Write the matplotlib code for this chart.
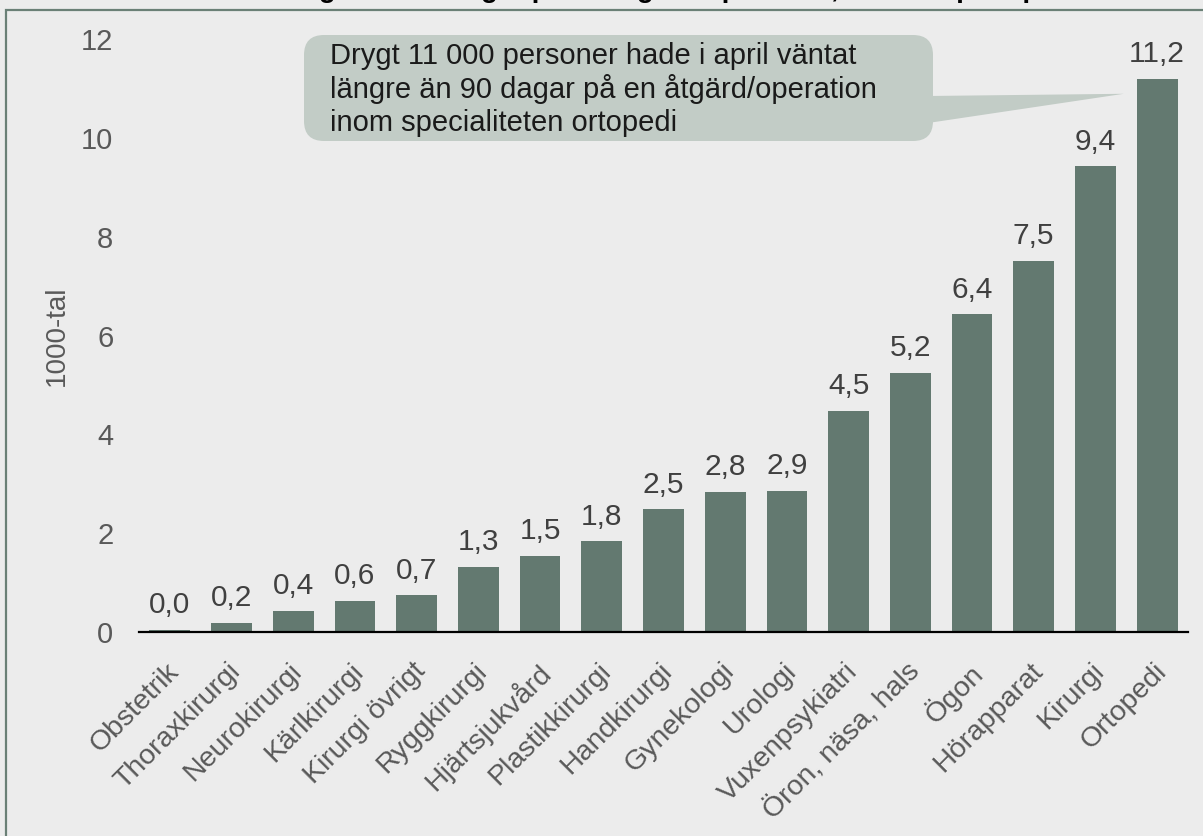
import matplotlib
matplotlib.use("Agg")
import matplotlib.pyplot as plt
from matplotlib.patches import FancyBboxPatch, Polygon, Rectangle
from matplotlib.transforms import IdentityTransform, ScaledTranslation

# ---- data ----
categories = ["Obstetrik", "Thoraxkirurgi", "Neurokirurgi", "Kärlkirurgi",
              "Kirurgi övrigt", "Ryggkirurgi", "Hjärtsjukvård", "Plastikkirurgi",
              "Handkirurgi", "Gynekologi", "Urologi", "Vuxenpsykiatri",
              "Öron, näsa, hals", "Ögon", "Hörapparat", "Kirurgi", "Ortopedi"]
values = [0.04, 0.18, 0.42, 0.62, 0.74, 1.32, 1.54, 1.83, 2.48, 2.84, 2.86,
          4.48, 5.24, 6.43, 7.52, 9.43, 11.2]
y_ticks = [0, 2, 4, 6, 8, 10, 12]
y_label = "1000-tal"
title = "Antal väntande längre än 90 dagar på en åtgärd/operation, fördelat per specialitet"
callout_lines = ["Drygt 11 000 personer hade i april väntat",
                 "längre än 90 dagar på en åtgärd/operation",
                 "inom specialiteten ortopedi"]

# ---- style ----
BG = "#ececec"
BAR = "#637970"
BOX = "#c2ccc6"
FRAME = "#6a8076"
TICK = "#595959"
VAL = "#404040"
FONT = ["Liberation Sans", "DejaVu Sans"]
plt.rcParams["font.family"] = FONT

W, H, DPI = 1203, 836, 100
fig = plt.figure(figsize=(W / DPI, H / DPI), dpi=DPI, facecolor=BG)
ax = fig.add_axes([139 / W, 1 - 631.7 / H, (1188 - 139) / W, (631.7 - 39.5) / H])
ax.set_facecolor(BG)

x = list(range(len(categories)))
ax.bar(x, values, width=0.66, color=BAR, zorder=2)
ax.set_xlim(-0.5, len(categories) - 0.5)
ax.set_ylim(0, 12)

for s in ["top", "right", "left"]:
    ax.spines[s].set_visible(False)
ax.spines["bottom"].set_color("black")
ax.spines["bottom"].set_linewidth(1.6)
ax.spines["bottom"].set_zorder(3)

ax.set_yticks(y_ticks)
ax.set_yticklabels([str(t) for t in y_ticks])
ax.tick_params(axis="y", length=0, pad=18.5, labelsize=21, labelcolor=TICK)
ax.set_ylabel(y_label, fontsize=20, color=TICK, labelpad=8)

ax.set_xticks(x)
ax.set_xticklabels(categories, rotation=45, ha="right", va="top",
                   rotation_mode="anchor", fontsize=20.5, color=TICK)
ax.tick_params(axis="x", length=0, pad=19)
shift = ScaledTranslation(-4 / DPI, 0, fig.dpi_scale_trans)
for lab in ax.get_xticklabels():
    lab.set_transform(lab.get_transform() + shift)

for xi, v in zip(x, values):
    ax.annotate(f"{v:.1f}".replace(".", ","), (xi, v), xytext=(0, 12),
                textcoords="offset points", ha="center", va="baseline",
                fontsize=21.5, color=VAL)

# ---- figure frame (partially cut off) ----
fig.patches.append(Rectangle((6 / W, -0.2), 1.2, 1.2 - 10 / H,
                             transform=fig.transFigure, fill=False,
                             edgecolor=FRAME, linewidth=1.6))

# ---- title (mostly outside the image, as in the reference) ----
fig.text(0.505, 1 + 3 / H, title, ha="center", va="baseline",
         fontsize=20, fontweight="bold", color="black")

# ---- callout ----
fig.canvas.draw()
tip = ax.transData.transform((len(categories) - 1 - 0.54, values[-1] - 0.3))
bx0, bx1, by0, by1 = 304, 933, H - 141, H - 35
box = FancyBboxPatch((bx0, by0), bx1 - bx0, by1 - by0,
                     boxstyle="round,pad=0,rounding_size=20",
                     transform=IdentityTransform(), facecolor=BOX,
                     edgecolor="none", zorder=5)
fig.patches.append(box)
wedge = Polygon([(bx1 - 5, H - 96), (tip[0], tip[1]), (bx1 - 5, H - 123)],
                closed=True, transform=IdentityTransform(), facecolor=BOX,
                edgecolor="none", zorder=5)
fig.patches.append(wedge)
for i, line in enumerate(callout_lines):
    fig.text(330 / W, 1 - (64.3 + 33.3 * i) / H, line, ha="left", va="baseline",
             fontsize=21, color="#1a1a1a", zorder=6)

fig.savefig("out.png", dpi=DPI, facecolor=BG)
